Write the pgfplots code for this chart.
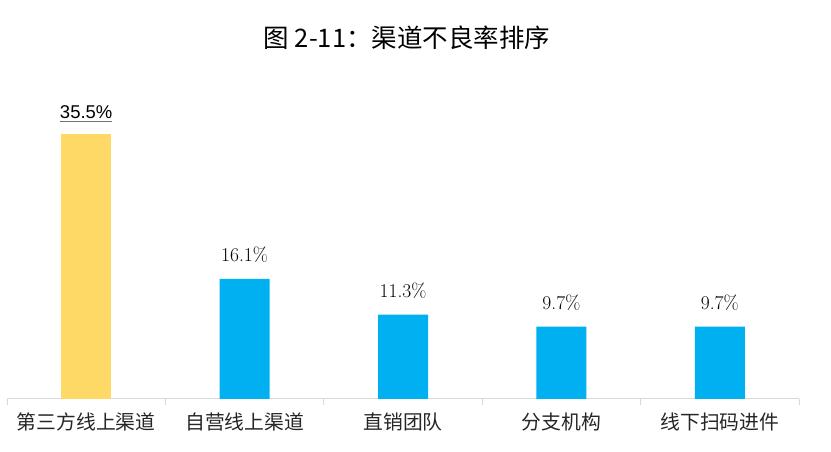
\documentclass[border=0pt]{standalone}
\usepackage{pgfplots}
\pgfplotsset{compat=1.18}
\usepackage{fontspec}
\newfontfamily\cjk{Noto Sans CJK SC}
\newfontfamily\arial{Liberation Sans}
\definecolor{byellow}{HTML}{FFD966}
\definecolor{bblue}{HTML}{00B0F0}
\definecolor{axgray}{HTML}{D9D9D9}
\newsavebox\ulbox
\newcommand\ul[1]{\sbox\ulbox{#1}\rlap{\raisebox{-3.5pt}{\color{black!55}\rule{\wd\ulbox}{1.8pt}}}\usebox\ulbox}
\begin{document}
\begin{tikzpicture}
\useasboundingbox (-7pt,-53pt) rectangle (824pt,399pt);
\begin{axis}[
 at={(0,0)}, anchor=south west,
 scale only axis, width=792pt, height=298.6pt,
 xmin=-0.5, xmax=4.5, ymin=0, ymax=40,
 hide y axis,
 axis x line*=bottom,
 x axis line style={draw=axgray, line width=1pt},
 xtick={0,1,2,3,4},
 xticklabels={第三方线上渠道,自营线上渠道,直销团队,分支机构,线下扫码进件},
 major x tick style={draw=none},
 minor xtick={-0.5,0.5,1.5,2.5,3.5,4.5},
 minor x tick style={draw=axgray, line width=1pt},
 minor tick length=6pt,
 major tick length=6pt,
 tick align=outside,
 xticklabel style={font=\cjk\fontsize{19.8}{22}\selectfont, text=black!85, yshift=-4pt},
 ybar, bar width=50pt, bar shift=0pt,
 point meta=explicit symbolic,
 nodes near coords style={anchor=base, yshift=17pt, inner sep=0pt, text=black},
]
\addplot[fill=byellow, draw=none,
  nodes near coords={\ul{\pgfplotspointmeta\%}},
  nodes near coords style={font=\arial\fontsize{18.5}{20}\selectfont, yshift=-2pt}]
  coordinates {(0,35.5)[35.5]};
\addplot[fill=bblue, draw=none,
  nodes near coords={\pgfplotspointmeta\%},
  nodes near coords style={font=\fontsize{19.5}{22}\selectfont}]
  coordinates {(1,16.1)[16.1] (2,11.3)[11.3] (3,9.7)[9.7] (4,9.7)[9.7]};
\end{axis}
\node[font=\cjk\fontsize{25.5}{30}\selectfont, text=black] at (400pt,361pt) {图 2-11：渠道不良率排序};
\end{tikzpicture}
\end{document}
